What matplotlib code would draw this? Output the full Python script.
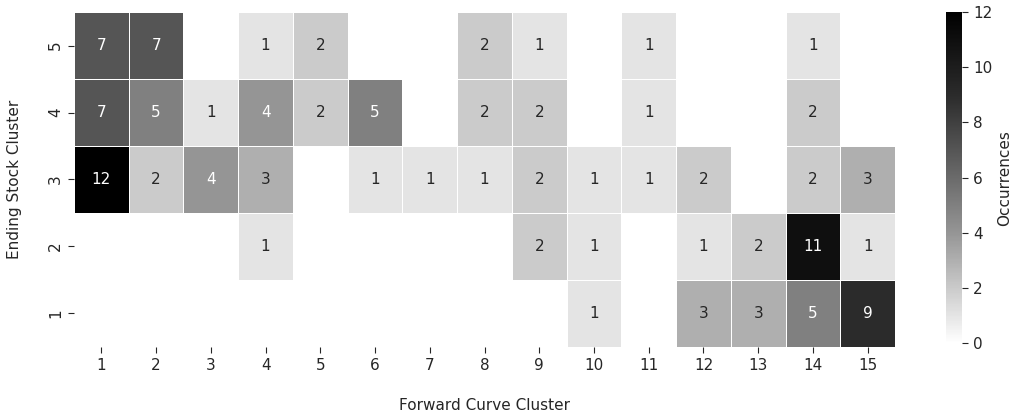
import numpy as np
import matplotlib
matplotlib.use('Agg')
import matplotlib.pyplot as plt
from matplotlib.colors import LinearSegmentedColormap

forward_clusters = [str(i) for i in range(1, 16)]
stock_clusters = ['5', '4', '3', '2', '1']  # top to bottom

row5 = [7, 7, 0, 1, 2, 0, 0, 2, 1, 0, 1, 0, 0, 1, 0]
row4 = [7, 5, 1, 4, 2, 5, 0, 2, 2, 0, 1, 0, 0, 2, 0]
row3 = [12, 2, 4, 3, 0, 1, 1, 1, 2, 1, 1, 2, 0, 2, 3]
row2 = [0, 0, 0, 1, 0, 0, 0, 0, 2, 1, 0, 1, 2, 11, 1]
row1 = [0, 0, 0, 0, 0, 0, 0, 0, 0, 1, 0, 3, 3, 5, 9]

counts = np.array([row5, row4, row3, row2, row1], dtype=float)
masked = np.ma.masked_where(counts == 0, counts)

# grey ramp (value -> grey level)
levels = [(0, 255), (1, 228), (2, 202), (3, 175), (4, 149), (5, 128),
          (7, 85), (9, 43), (11, 15), (12, 0)]
cmap = LinearSegmentedColormap.from_list(
    'occ', [(v / 12, (g / 255,) * 3) for v, g in levels])

plt.rcParams['font.family'] = 'DejaVu Sans'
plt.rcParams['font.size'] = 11

fig = plt.figure(figsize=(10.18, 4.15), dpi=100)
ax = fig.add_axes([0.0727, 0.164, 0.8065, 0.807])
cax = fig.add_axes([0.929, 0.173, 0.0157, 0.798])

nrows, ncols = counts.shape
mesh = ax.pcolormesh(np.arange(ncols + 1), np.arange(nrows + 1), masked,
                     cmap=cmap, vmin=0, vmax=12,
                     edgecolor='white', linewidth=0.5)
ax.set_xlim(0, ncols)
ax.set_ylim(nrows, 0)

for i in range(nrows):
    for j in range(ncols):
        v = counts[i, j]
        if v == 0:
            continue
        g = cmap(v / 12)[0]
        color = 'white' if g < 0.62 else '#262626'
        ax.text(j + 0.5, i + 0.5, '%d' % v, ha='center', va='center',
                color=color, fontsize=11)

ax.set_xticks(np.arange(ncols) + 0.5)
ax.set_xticklabels(forward_clusters)
ax.set_yticks(np.arange(nrows) + 0.5)
ax.set_yticklabels(stock_clusters, rotation=90, va='center')
ax.tick_params(length=4.5, color='#262626', labelcolor='#262626')
for s in ax.spines.values():
    s.set_visible(False)
ax.set_xlabel('Forward Curve Cluster', labelpad=18, color='#262626')
ax.set_ylabel('Ending Stock Cluster', labelpad=19, color='#262626')

cb = fig.colorbar(mesh, cax=cax, ticks=[0, 2, 4, 6, 8, 10, 12])
cb.outline.set_visible(False)
cb.ax.tick_params(length=4.5, color='#262626', labelcolor='#262626')
cb.set_label('Occurrences', color='#262626')

fig.savefig('out.png', dpi=100)
